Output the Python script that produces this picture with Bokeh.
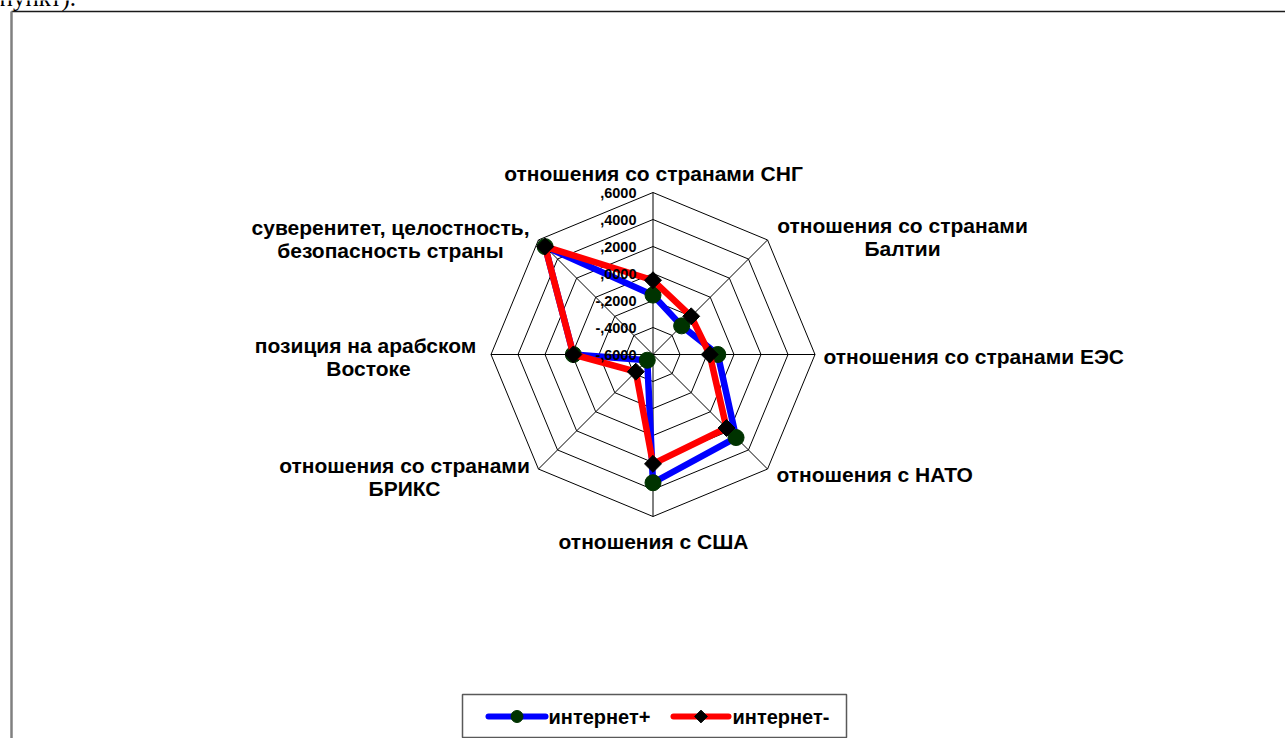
import numpy as np
from bokeh.plotting import figure
from bokeh.models import Range1d
from bokeh.core.properties import value
from bokeh.embed import file_html
from bokeh.resources import INLINE

# ---- data -------------------------------------------------------------
categories = [
    "отношения со странами СНГ",
    "отношения со странами Балтии",
    "отношения со странами ЕЭС",
    "отношения с НАТО",
    "отношения с США",
    "отношения со странами БРИКС",
    "позиция  на арабском Востоке",
    "суверенитет, целостность, безопасность страны",
]
category_lines = [
    ["отношения со странами СНГ"],
    ["отношения со странами", "Балтии"],
    ["отношения со странами ЕЭС"],
    ["отношения с НАТО"],
    ["отношения с США"],
    ["отношения со странами", "БРИКС"],
    ["позиция  на арабском", "Востоке"],
    ["суверенитет, целостность,", "безопасность страны"],
]
internet_plus = [-0.16, -0.30, -0.12, 0.27, 0.35, -0.54, -0.01, 0.53]
internet_minus = [-0.05, -0.20, -0.18, 0.17, 0.21, -0.42, -0.01, 0.53]
series_names = ["интернет+", "интернет-"]
tick_values = [0.6, 0.4, 0.2, 0.0, -0.2, -0.4, -0.6]
tick_labels = [",6000", ",4000", ",2000", ",0000", "-,2000", "-,4000", "-,6000"]

# ---- layout (pixels) --------------------------------------------------
W, H = 1285, 738
CX, CY = 652.5, 354.0          # centre of the radar, from the top-left
R = 162.0                      # radius of the outer ring
VMIN, VMAX = min(tick_values), max(tick_values)
FONT = value("Liberation Sans")

BLUE, RED = "#0000FF", "#FF0000"
CIRCLE_FILL, DIAMOND_FILL = "#003300", "black"

# label anchors: x, line centres (y from top), alignment
label_layout = [
    (653, [173], "center"),
    (902, [225, 248], "center"),
    (823, [356], "left"),
    (776, [474], "left"),
    (653, [541], "center"),
    (404, [465, 488], "center"),
    (368, [345, 368], "center"),
    (390, [227, 250], "center"),
]


def px(x, y):
    """page pixel (from top-left) -> plot coordinates"""
    return x - CX, CY - y


n = len(categories)
theta = np.pi / 2 - np.arange(n) * 2 * np.pi / n


def radial(vals):
    r = (np.asarray(vals, dtype=float) - VMIN) / (VMAX - VMIN) * R
    return r * np.cos(theta), r * np.sin(theta)


p = figure(width=W, height=H, output_backend="svg", toolbar_location=None,
           x_range=Range1d(-CX, W - CX), y_range=Range1d(-(H - CY), CY),
           x_axis_type=None, y_axis_type=None, min_border=0,
           background_fill_color="white", border_fill_color="white")
p.outline_line_color = None
p.grid.visible = False

# page remnants: frame of the chart area and the preceding text line
x0, y0 = px(11, 11)
x1, _ = px(W + 5, 11)
_, y1 = px(11, H + 5)
p.segment(x0=[x0], y0=[y0], x1=[x1], y1=[y0], line_color="#1a1a1a", line_width=1.5)
p.segment(x0=[x0], y0=[y0], x1=[x0], y1=[y1], line_color="#808080", line_width=2.5)
tx, ty = px(-1, -3)
p.text(x=[tx], y=[ty], text=["пункт)."], text_font=value("Liberation Serif"),
       text_font_size="25px", text_color="black", text_baseline="alphabetic")

# rings and spokes
for tv in tick_values[:-1]:
    rx, ry = radial([tv] * n)
    p.line(np.append(rx, rx[0]), np.append(ry, ry[0]), line_color="black", line_width=1)
ox, oy = radial([VMAX] * n)
p.segment(x0=np.zeros(n), y0=np.zeros(n), x1=ox, y1=oy, line_color="black", line_width=1)

# category labels
for lines, (lx, lys, align) in zip(category_lines, label_layout):
    for line, ly in zip(lines, lys):
        x, y = px(lx, ly)
        p.text(x=[x], y=[y], text=[line], text_font=FONT, text_font_style="bold",
               text_font_size="21px", text_align=align, text_baseline="middle",
               text_color="black")

# series
bx, by = radial(internet_plus)
p.line(np.append(bx, bx[0]), np.append(by, by[0]), line_color=BLUE,
       line_width=6.5, line_join="round")
p.scatter(bx, by, marker="circle", size=16, fill_color=CIRCLE_FILL, line_color=CIRCLE_FILL)

rx_, ry_ = radial(internet_minus)
p.line(np.append(rx_, rx_[0]), np.append(ry_, ry_[0]), line_color=RED,
       line_width=6.5, line_join="round")
p.scatter(rx_, ry_, marker="square", size=12, angle=np.pi / 4,
          fill_color=DIAMOND_FILL, line_color=DIAMOND_FILL)

# value labels along the top spoke, drawn over the series
tick_r = (np.asarray(tick_values) - VMIN) / (VMAX - VMIN) * R
p.text(x=np.full(len(tick_values), 636 - CX), y=tick_r, text=tick_labels,
       text_font=FONT, text_font_style="bold", text_font_size="14.5px",
       text_align="right", text_baseline="middle", text_color="black")

# legend box with line + marker samples
lx0, ly0 = px(462, 694)
lx1, ly1 = px(846, 737)
p.quad(left=[lx0], right=[lx1], top=[ly0], bottom=[ly1], fill_color="white",
       line_color="#595959", line_width=1.5)
_, ky = px(0, 716)
samples = [(488, 545, BLUE, "circle", 12, 0.0, CIRCLE_FILL, series_names[0], 548),
           (673, 728, RED, "square", 9, np.pi / 4, DIAMOND_FILL, series_names[1], 732)]
for sx0, sx1, col, mk, ms, ang, mfill, name, tx0 in samples:
    a, _ = px(sx0, 0)
    b, _ = px(sx1, 0)
    p.line([a, b], [ky, ky], line_color=col, line_width=6, line_cap="round")
    p.scatter([(a + b) / 2], [ky], marker=mk, size=ms, angle=ang,
              fill_color=mfill, line_color=mfill)
    t, _ = px(tx0, 0)
    p.text(x=[t], y=[ky], text=[name], text_font=FONT, text_font_style="bold",
           text_font_size="20px", text_align="left", text_baseline="middle",
           text_color="black")

open("out.html", "w").write(file_html(p, INLINE))
